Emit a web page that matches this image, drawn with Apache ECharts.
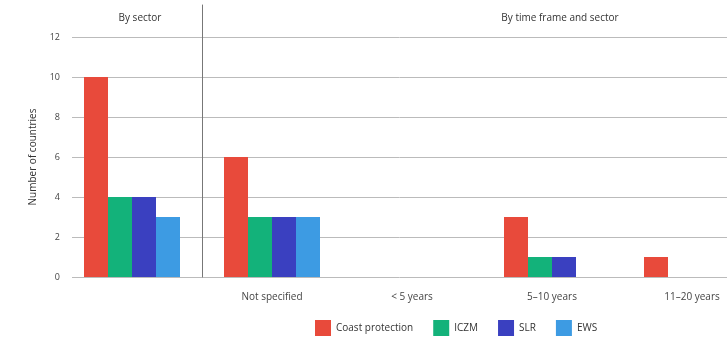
<!DOCTYPE html>
<html><head><meta charset="utf-8">
<script src="https://cdn.jsdelivr.net/npm/echarts@6/dist/echarts.min.js"></script>
<style>html,body{margin:0;padding:0;background:#fff}#c{width:727px;height:346px}</style>
</head><body><div id="c"></div>
<script>
const categories = ['', 'Not specified', '< 5 years', '5–10 years', '11–20 years'];
const seriesNames = ['Coast protection', 'ICZM', 'SLR', 'EWS'];
const coastProtection = [10, 6, 0, 3, 1];
const iczm = [4, 3, 0, 1, 0];
const slr = [4, 3, 0, 1, 0];
const ews = [3, 3, 0, 0, 0];
const yTicks = [0, 2, 4, 6, 8, 10, 12];
const colors = ['#e84a3b', '#13b27a', '#3a40c0', '#3d9be3'];
const values = [coastProtection, iczm, slr, ews];
const FONT = 'Open Sans';

const chart = echarts.init(document.getElementById('c'));
chart.setOption({
  animation: false,
  textStyle: { fontFamily: FONT },
  title: [
    { text: 'By sector', left: 135, top: 8, textAlign: 'center',
      textStyle: { fontSize: 10, fontWeight: 'normal', color: '#333', fontFamily: FONT } },
    { text: 'By time frame and sector', left: 555, top: 8, textAlign: 'center',
      textStyle: { fontSize: 10, fontWeight: 'normal', color: '#333', fontFamily: FONT } }
  ],
  legend: {
    data: seriesNames, bottom: 5, left: 310, itemWidth: 16, itemHeight: 16, itemGap: 20,
    icon: 'rect',
    textStyle: { fontSize: 10, color: '#333', fontFamily: FONT }
  },
  grid: [
    { left: 62, width: 700, top: 5, bottom: 69, containLabel: false, outerBoundsMode: 'none' },
    { left: 72, right: 0, top: 37, bottom: 69, containLabel: false, outerBoundsMode: 'none' },
    { left: 62, width: 700, top: 5, bottom: 69, containLabel: false, outerBoundsMode: 'none' }
  ],
  xAxis: [
    { type: 'category', gridIndex: 0, data: categories,
      axisLine: { show: false }, axisTick: { show: false },
      axisLabel: { fontSize: 10, color: '#444', margin: 15, fontFamily: FONT, interval: 0 },
      splitLine: { show: false } },
    { type: 'category', gridIndex: 1, data: categories, show: false },
    { type: 'value', gridIndex: 2, min: -1, max: 4, show: false }
  ],
  yAxis: [
    { type: 'value', gridIndex: 0, min: 0, max: 13.6, show: false, splitLine: { show: false } },
    { type: 'value', gridIndex: 1, min: 0, max: yTicks[yTicks.length - 1], interval: 2,
      name: 'Number of countries', nameLocation: 'middle', nameGap: 34,
      nameTextStyle: { fontSize: 10, color: '#333', fontFamily: FONT },
      axisLine: { show: false }, axisTick: { show: false },
      axisLabel: { fontSize: 9, color: '#444', margin: 12, fontFamily: FONT },
      splitLine: { lineStyle: { color: '#bbb', width: 1 } } },
    { type: 'value', gridIndex: 2, min: 0, max: 1,
      axisLine: { show: true, onZero: true, lineStyle: { color: '#777', width: 1 } },
      axisTick: { show: false }, axisLabel: { show: false }, splitLine: { show: false } }
  ],
  series: seriesNames.map((n, i) => ({
    name: n, type: 'bar', xAxisIndex: 0, yAxisIndex: 0,
    data: values[i], barWidth: 24, barGap: '0%',
    itemStyle: { color: colors[i] }
  }))
});
</script></body></html>
